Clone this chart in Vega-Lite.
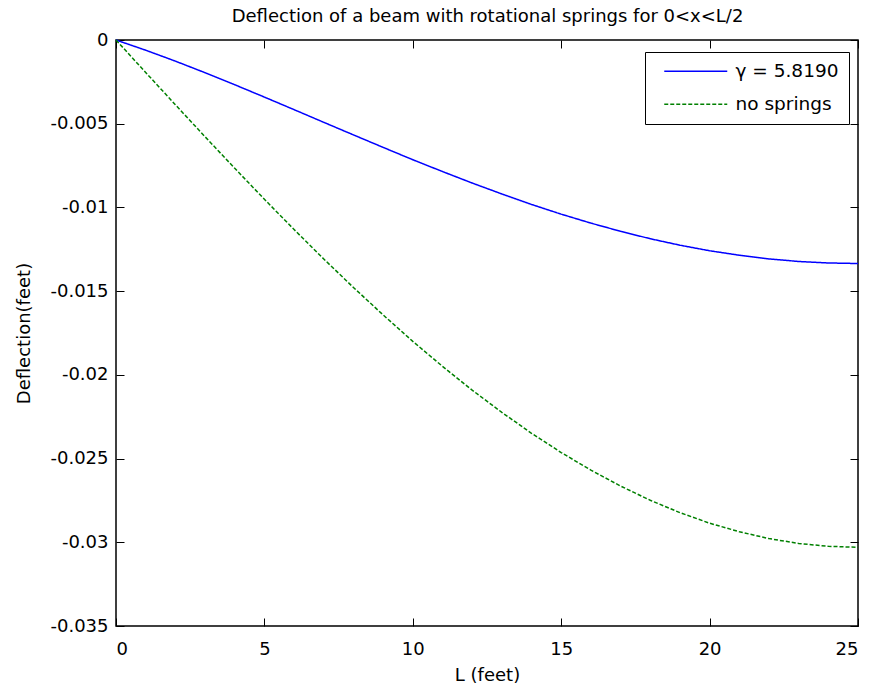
{
  "$schema": "https://vega.github.io/schema/vega-lite/v6.json",
  "width": 742,
  "height": 586,
  "autosize": "none",
  "padding": {"left": 116, "top": 40, "right": 16, "bottom": 66},
  "background": "white",
  "config": {
    "font": "DejaVu Sans",
    "view": {"stroke": "black", "strokeWidth": 1.5},
    "axis": {"domain": false, "grid": false, "labelFont": "DejaVu Sans", "titleFont": "DejaVu Sans", "labelColor": "black", "titleColor": "black", "tickColor": "black", "labelFontSize": 18, "titleFontSize": 18, "titleFontWeight": "normal", "tickSize": -8, "tickWidth": 1}
  },
  "data": {"values": [
    {"x": 0, "y": 0, "series": "γ = 5.8190"},
    {"x": 1, "y": -0.000609, "series": "γ = 5.8190"},
    {"x": 2, "y": -0.001262, "series": "γ = 5.8190"},
    {"x": 3, "y": -0.001953, "series": "γ = 5.8190"},
    {"x": 4, "y": -0.002671, "series": "γ = 5.8190"},
    {"x": 5, "y": -0.00341, "series": "γ = 5.8190"},
    {"x": 6, "y": -0.00416, "series": "γ = 5.8190"},
    {"x": 7, "y": -0.004917, "series": "γ = 5.8190"},
    {"x": 8, "y": -0.005668, "series": "γ = 5.8190"},
    {"x": 9, "y": -0.006413, "series": "γ = 5.8190"},
    {"x": 10, "y": -0.007152, "series": "γ = 5.8190"},
    {"x": 11, "y": -0.007856, "series": "γ = 5.8190"},
    {"x": 12, "y": -0.008543, "series": "γ = 5.8190"},
    {"x": 13, "y": -0.009195, "series": "γ = 5.8190"},
    {"x": 14, "y": -0.009822, "series": "γ = 5.8190"},
    {"x": 15, "y": -0.010402, "series": "γ = 5.8190"},
    {"x": 16, "y": -0.010937, "series": "γ = 5.8190"},
    {"x": 17, "y": -0.011426, "series": "γ = 5.8190"},
    {"x": 18, "y": -0.011869, "series": "γ = 5.8190"},
    {"x": 19, "y": -0.012256, "series": "γ = 5.8190"},
    {"x": 20, "y": -0.012588, "series": "γ = 5.8190"},
    {"x": 21, "y": -0.012854, "series": "γ = 5.8190"},
    {"x": 22, "y": -0.013074, "series": "γ = 5.8190"},
    {"x": 23, "y": -0.013228, "series": "γ = 5.8190"},
    {"x": 24, "y": -0.013317, "series": "γ = 5.8190"},
    {"x": 25, "y": -0.01335, "series": "γ = 5.8190"},
    {"x": 0, "y": 0, "series": "no springs"},
    {"x": 1, "y": -0.001938, "series": "no springs"},
    {"x": 2, "y": -0.003866, "series": "no springs"},
    {"x": 3, "y": -0.005777, "series": "no springs"},
    {"x": 4, "y": -0.007661, "series": "no springs"},
    {"x": 5, "y": -0.009512, "series": "no springs"},
    {"x": 6, "y": -0.01132, "series": "no springs"},
    {"x": 7, "y": -0.01308, "series": "no springs"},
    {"x": 8, "y": -0.01478, "series": "no springs"},
    {"x": 9, "y": -0.01642, "series": "no springs"},
    {"x": 10, "y": -0.018, "series": "no springs"},
    {"x": 11, "y": -0.01949, "series": "no springs"},
    {"x": 12, "y": -0.02091, "series": "no springs"},
    {"x": 13, "y": -0.02224, "series": "no springs"},
    {"x": 14, "y": -0.02349, "series": "no springs"},
    {"x": 15, "y": -0.02464, "series": "no springs"},
    {"x": 16, "y": -0.02569, "series": "no springs"},
    {"x": 17, "y": -0.02664, "series": "no springs"},
    {"x": 18, "y": -0.02749, "series": "no springs"},
    {"x": 19, "y": -0.02823, "series": "no springs"},
    {"x": 20, "y": -0.02886, "series": "no springs"},
    {"x": 21, "y": -0.02937, "series": "no springs"},
    {"x": 22, "y": -0.02978, "series": "no springs"},
    {"x": 23, "y": -0.03007, "series": "no springs"},
    {"x": 24, "y": -0.03024, "series": "no springs"},
    {"x": 25, "y": -0.0303, "series": "no springs"}
  ]},
  "layer": [
    {
      "mark": {"type": "line", "strokeWidth": 1.5},
      "encoding": {
        "x": {"field": "x", "type": "quantitative", "scale": {"domain": [0, 25], "nice": false, "zero": false},
              "axis": {"orient": "bottom", "values": [0, 5, 10, 15, 20, 25], "title": "L (feet)", "labelPadding": 36, "labelBaseline": "alphabetic", "titleX": 371, "titleY": 54, "titleBaseline": "alphabetic", "titleAnchor": "middle"}},
        "y": {"field": "y", "type": "quantitative", "scale": {"domain": [-0.035, 0], "nice": false, "zero": false},
              "axis": {"orient": "left", "values": [0, -0.005, -0.01, -0.015, -0.02, -0.025, -0.03, -0.035], "labelExpr": "'' + datum.value", "title": "Deflection(feet)", "labelPadding": 16, "labelBaseline": "middle", "titleX": -83, "titleY": 293, "titleBaseline": "bottom", "titleAngle": -90, "titleAnchor": "middle"}},
        "color": {"field": "series", "type": "nominal", "scale": {"domain": ["γ = 5.8190", "no springs"], "range": ["#0000ff", "#008000"]},
                  "legend": {"title": null, "orient": "none", "legendX": 529, "legendY": 12, "fillColor": "white", "strokeColor": "black", "padding": 10, "symbolType": "M0,0H9", "symbolSize": 196, "symbolStrokeWidth": 1.5, "labelFontSize": 18.5, "labelFont": "DejaVu Sans", "labelColor": "black", "rowPadding": 14, "labelOffset": 62}},
        "strokeDash": {"field": "series", "type": "nominal", "scale": {"domain": ["γ = 5.8190", "no springs"], "range": [[1, 0], [4, 2]]}, "legend": null}
      }
    },
    {
      "mark": {"type": "line", "strokeOpacity": 0},
      "encoding": {
        "x": {"field": "x", "type": "quantitative", "axis": {"orient": "top", "values": [0, 5, 10, 15, 20, 25], "labels": false, "title": "Deflection of a beam with rotational springs for 0<x<L/2", "titleX": 371, "titleY": -19, "titleBaseline": "alphabetic", "titleAnchor": "middle"}},
        "y": {"field": "y", "type": "quantitative", "axis": {"orient": "right", "values": [0, -0.005, -0.01, -0.015, -0.02, -0.025, -0.03, -0.035], "labels": false, "title": null}},
        "detail": {"field": "series"}
      }
    }
  ],
  "resolve": {"axis": {"x": "independent", "y": "independent"}}
}
